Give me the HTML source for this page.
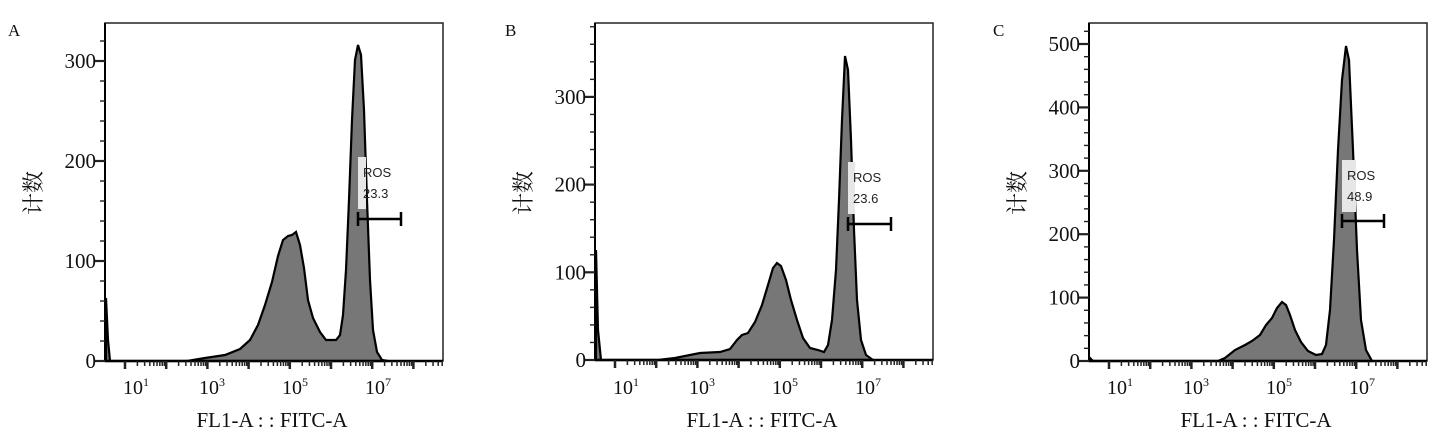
<!DOCTYPE html>
<html><head><meta charset="utf-8"><style>
body{margin:0;background:#fff;width:1447px;height:432px;overflow:hidden}
svg{display:block}
.s{font-family:"Liberation Serif","Noto Serif CJK SC",serif;fill:#111}
.a{font-family:"Liberation Sans",sans-serif;fill:#222;font-size:13px}
</style></head><body>
<svg id="g" width="1447" height="432" xmlns="http://www.w3.org/2000/svg">
<path d="M106,361 L106,298 L108,340 L110,361 L187,361 L205,358 L225,355 L240,349 L250,340 L258,325 L265,305 L272,282 L278,256 L283,240 L288,236 L292,235 L296,232 L300,245 L304,268 L308,300 L313,318 L320,332 L326,340 L336,340 L340,335 L343,315 L346,270 L349,200 L352,120 L355,60 L358,45 L361,55 L364,110 L367,200 L370,280 L373,330 L377,352 L382,360 L388,361 Z" fill="#777" stroke="#000" stroke-width="2.2"/>
<path d="M596,360 L596,250 L598,330 L601,360 L658,360 L675,358 L690,355 L700,353 L720,352 L730,349 L737,340 L742,335 L748,333 L755,322 L762,305 L768,285 L773,268 L777,263 L781,266 L786,280 L791,300 L797,320 L803,338 L810,348 L818,350 L824,352 L828,345 L832,320 L836,270 L839,200 L842,120 L845,56 L848,70 L851,140 L854,230 L857,300 L861,340 L866,355 L873,360 Z" fill="#777" stroke="#000" stroke-width="2.2"/>
<path d="M1090,361 L1090,358 L1093,361 L1218,361 L1225,358 L1235,350 L1245,345 L1252,341 L1260,335 L1266,325 L1272,318 L1277,308 L1282,302 L1286,305 L1290,315 L1295,330 L1301,342 L1308,351 L1316,355 L1322,354 L1326,345 L1330,310 L1334,240 L1338,150 L1342,80 L1346,46 L1349,60 L1353,150 L1357,250 L1361,320 L1366,350 L1372,361 Z" fill="#777" stroke="#000" stroke-width="2.2"/>
</svg>
<script>
var g=document.getElementById('g'),NS='http://www.w3.org/2000/svg';
function el(t,a,txt){var e=document.createElementNS(NS,t);for(var k in a)e.setAttribute(k,a[k]);if(txt!=null)e.textContent=txt;g.appendChild(e);return e;}
var P=[
 {x0:105,x1:443,bot:361,ppc:1.0,max:330,lab:[0,100,200,300],L:'A',lx:8,box:[358,157,8],bar:[358,401,219],t:['23.3']},
 {x0:595,x1:933,bot:360,ppc:0.877,max:380,lab:[0,100,200,300],L:'B',lx:505,box:[848,162,7],bar:[848,891,224],t:['23.6']},
 {x0:1089,x1:1427,bot:361,ppc:0.634,max:520,lab:[0,100,200,300,400,500],L:'C',lx:993,box:[1342,160,14],bar:[1342,1384,221],t:['48.9']}
];
P.forEach(function(p){
 el('rect',{x:p.x0,y:23,width:p.x1-p.x0,height:p.bot-23,fill:'none',stroke:'#222','stroke-width':1.5});
 el('line',{x1:p.x0,y1:p.bot,x2:p.x1,y2:p.bot,stroke:'#000','stroke-width':2.5});
 el('line',{x1:p.x0,y1:23,x2:p.x0,y2:p.bot,stroke:'#000','stroke-width':2});
 for(var c=0;c<=p.max;c+=20){var y=p.bot-c*p.ppc;if(y<23)break;var maj=c%100==0;
  el('line',{x1:p.x0-(maj?10:5),y1:y,x2:p.x0,y2:y,stroke:'#222','stroke-width':maj?2.2:1.4});}
 p.lab.forEach(function(c){el('text',{x:p.x0-9,y:p.bot-c*p.ppc+7,'text-anchor':'end','class':'s','font-size':21},String(c));});
 var d0=p.x0+20,sp=41.2;
 for(var k=0;k<8;k++){for(var m=1;m<10;m++){var x=d0+sp*(k+Math.log10(m));if(x>p.x1)break;
  el('line',{x1:x,y1:p.bot,x2:x,y2:p.bot+(m==1?8:5),stroke:'#222','stroke-width':m==1?2.5:1.5});}}
 var off=p.x0-105;
 [[123,'1'],[199,'3'],[282,'5'],[365,'7']].forEach(function(l){
  var t=el('text',{x:l[0]+off,y:394,'class':'s','font-size':20},'10');
  var s=document.createElementNS(NS,'tspan');s.setAttribute('dy',-8);s.setAttribute('font-size',12);s.textContent=l[1];t.appendChild(s);});
 el('text',{x:p.x0+167,y:427,'text-anchor':'middle','class':'s','font-size':21},'FL1-A : : FITC-A');
 el('text',{x:0,y:0,'class':'s','font-size':22,transform:'translate('+(p.x0-64)+',193) rotate(-90)','text-anchor':'middle'},'计数');
 el('text',{x:p.lx,y:36,'class':'s','font-size':17},p.L);
 el('rect',{x:p.box[0],y:p.box[1],width:p.box[2],height:52,fill:'#e6e6e6'});
 el('text',{x:p.box[0]+5,y:p.box[1]+20,'class':'a'},'ROS');
 el('text',{x:p.box[0]+5,y:p.box[1]+41,'class':'a'},p.t[0]);
 el('line',{x1:p.bar[0],y1:p.bar[2],x2:p.bar[1],y2:p.bar[2],stroke:'#000','stroke-width':2.5});
 el('line',{x1:p.bar[0],y1:p.bar[2]-7,x2:p.bar[0],y2:p.bar[2]+7,stroke:'#000','stroke-width':2.5});
 el('line',{x1:p.bar[1],y1:p.bar[2]-7,x2:p.bar[1],y2:p.bar[2]+7,stroke:'#000','stroke-width':2.5});
});
</script>
</body></html>
